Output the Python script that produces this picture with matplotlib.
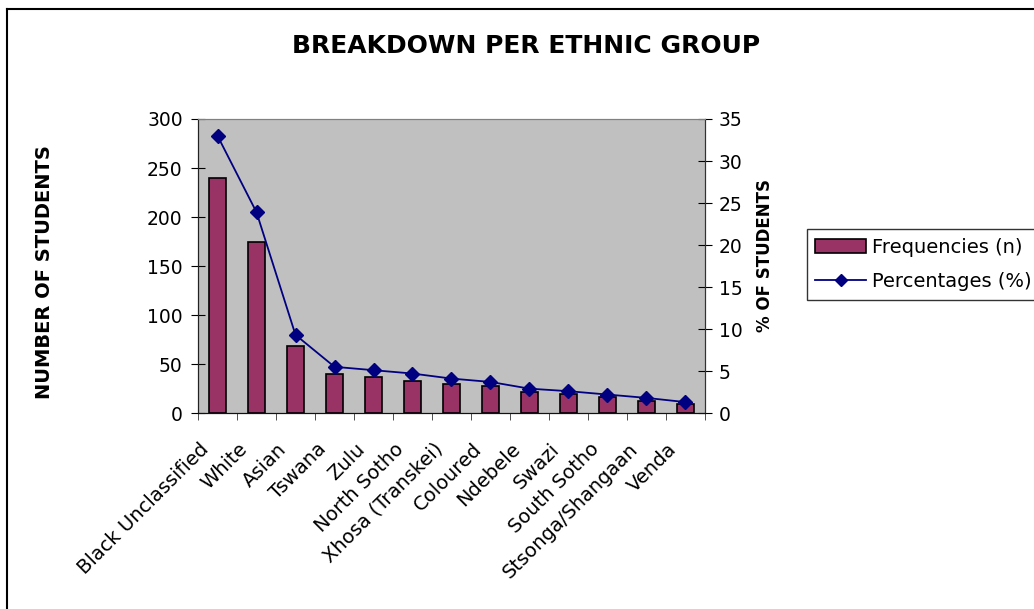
import numpy as np
import matplotlib
matplotlib.use("Agg")
import matplotlib.pyplot as plt
import matplotlib.transforms as mtransforms
from matplotlib.lines import Line2D
from matplotlib.patches import Patch

plt.rcParams["font.family"] = ["DejaVu Sans"]

# Data
groups = ["Black Unclassified", "White", "Asian", "Tswana", "Zulu", "North Sotho",
          "Xhosa (Transkei)", "Coloured", "Ndebele", "Swazi", "South Sotho",
          "Stsonga/Shangaan", "Venda"]
frequencies = [240, 174, 68, 40, 37, 33, 30, 28, 21, 19, 16, 12, 9]
percentages = [33.0, 23.9, 9.3, 5.5, 5.1, 4.7, 4.1, 3.7, 2.9, 2.6, 2.2, 1.8, 1.3]

bar_color = "#993366"
line_color = "#000080"

fig = plt.figure(figsize=(10.34, 6.09), dpi=100)
ax = fig.add_axes([0.1915, 0.3218, 0.4903, 0.4828])
ax.set_facecolor("#C0C0C0")

x = np.arange(len(groups))
ax.bar(x, frequencies, width=0.44, color=bar_color, edgecolor="black", linewidth=1.2)
ax.set_xlim(-0.5, len(groups) - 0.5)
ax.set_ylim(0, 300)
ax.set_yticks([0, 50, 100, 150, 200, 250, 300])

# category labels at centres, ticks on boundaries
ax.set_xticks(x)
ax.set_xticklabels(groups, rotation=45, ha="right", fontsize=14)
ax.tick_params(axis="x", length=0, pad=19)
shift = mtransforms.ScaledTranslation(-5 / 100, 0, fig.dpi_scale_trans)
for lbl in ax.get_xticklabels():
    lbl.set_transform(lbl.get_transform() + shift)
ax.set_xticks(np.arange(len(groups) + 1) - 0.5, minor=True)
ax.tick_params(axis="x", which="minor", length=5, direction="out", color="#333333")
ax.tick_params(axis="y", direction="inout", length=10, labelsize=13.5, pad=6)

ax2 = ax.twinx()
ax2.plot(x, percentages, color=line_color, linewidth=1.3, marker="D", markersize=7)
ax2.set_ylim(0, 35)
ax2.set_yticks(range(0, 40, 5))
ax2.tick_params(axis="y", direction="inout", length=10, labelsize=13.5, pad=5)

for a in (ax, ax2):
    a.spines["top"].set_color("#808080")
    a.spines["left"].set_color("#222222")
    a.spines["right"].set_color("#333333")
    a.spines["bottom"].set_color("#111111")

fig.text(0.509, 0.9245, "BREAKDOWN PER ETHNIC GROUP", ha="center", va="center",
         fontsize=18, fontweight="bold")
fig.text(0.043, 0.553, "NUMBER OF STUDENTS", rotation=90, ha="center", va="center",
         fontsize=14, fontweight="bold")
fig.text(0.740, 0.581, "% OF STUDENTS", rotation=90, ha="center", va="center",
         fontsize=12, fontweight="bold")

handles = [Patch(facecolor=bar_color, edgecolor="black", linewidth=1.2),
           Line2D([], [], color=line_color, linewidth=1.3, marker="D", markersize=6)]
leg = fig.legend(handles, ["Frequencies (n)", "Percentages (%)"], loc="upper left",
                 bbox_to_anchor=(0.780, 0.624), fontsize=14, frameon=True,
                 fancybox=False, borderpad=0.45, borderaxespad=0, handlelength=2.6,
                 handletextpad=0.3, labelspacing=0.8)
leg.get_frame().set_edgecolor("black")
leg.get_frame().set_linewidth(1.0)

# outer chart border (top and left edges visible)
fig.add_artist(Line2D([0.0068, 1.0], [0.9845, 0.9845], color="black", linewidth=1.5,
                      transform=fig.transFigure))
fig.add_artist(Line2D([0.0068, 0.0068], [0.0, 0.9845], color="black", linewidth=1.5,
                      transform=fig.transFigure))

fig.savefig("out.png", dpi=100)
